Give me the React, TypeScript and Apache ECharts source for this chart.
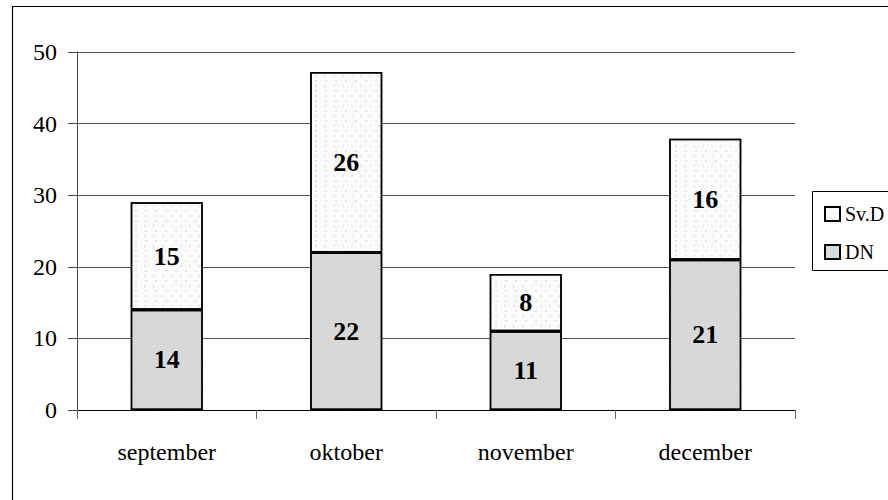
import React, { useEffect, useRef } from "react";
import * as echarts from "echarts";

const categories = ["september", "oktober", "november", "december"];
const dnValues = [14, 22, 11, 21];
const svdValues = [15, 25.2, 8, 16.9];
const svdLabels = [15, 26, 8, 16];
const dnLabels = [14, 22, 11, 21];
const yTicks = [0, 10, 20, 30, 40, 50];

const FONT = "Liberation Serif";

export default function App() {
  const ref = useRef<HTMLDivElement>(null);
  useEffect(() => {
    if (!ref.current) return;
    const chart = echarts.init(ref.current, undefined, { renderer: "svg" });
    const labelStyle = {
      show: true,
      position: "inside" as const,
      fontFamily: FONT,
      fontWeight: "bold" as const,
      fontSize: 26,
      color: "#000",
    };
    chart.setOption({
      animation: false,
      backgroundColor: "#fff",
      textStyle: { fontFamily: FONT },
      grid: { left: 77, top: 52, width: 718, height: 358 },
      legend: {
        orient: "vertical",
        left: 819,
        top: 199,
        icon: "rect",
        itemWidth: 15,
        itemHeight: 14,
        itemGap: 18,
        data: ["Sv.D", "DN"],
        textStyle: { fontFamily: FONT, fontSize: 20, color: "#000" },
      },
      xAxis: {
        type: "category",
        data: categories,
        axisLine: { lineStyle: { color: "#000", width: 1 } },
        axisTick: { show: true, length: 9, lineStyle: { color: "#666" } },
        axisLabel: { fontFamily: FONT, fontSize: 24, color: "#000", margin: 30 },
      },
      yAxis: {
        type: "value",
        min: yTicks[0],
        max: yTicks[yTicks.length - 1],
        interval: 10,
        axisLine: { show: true, lineStyle: { color: "#444", width: 1 } },
        axisTick: { show: true, length: 9, lineStyle: { color: "#444" } },
        axisLabel: { fontFamily: FONT, fontSize: 24, color: "#000", margin: 20 },
        splitLine: { show: true, lineStyle: { color: "#555", width: 1 } },
      },
      series: [
        {
          name: "DN",
          type: "bar",
          stack: "total",
          barWidth: 72,
          data: dnValues,
          itemStyle: {
            color: "#d6d6d6",
            borderColor: "#000",
            borderWidth: 1.5,
            decal: {
              symbol: "circle",
              symbolSize: 0.6,
              dashArrayX: [2, 1],
              dashArrayY: [2, 1],
              color: "#e2e2e2",
              rotation: 0,
            },
          },
          label: { ...labelStyle, formatter: (p: any) => String(dnLabels[p.dataIndex]) },
        },
        {
          name: "Sv.D",
          type: "bar",
          stack: "total",
          barWidth: 72,
          data: svdValues,
          itemStyle: {
            color: "#fbfbfb",
            borderColor: "#000",
            borderWidth: 1.5,
            decal: {
              symbol: "circle",
              symbolSize: 0.6,
              dashArrayX: [[2, 7], [0, 4.5, 2, 2.5]],
              dashArrayY: [2, 2.5],
              color: "#c0c0c0",
              rotation: 0,
            },
          },
          label: { ...labelStyle, formatter: (p: any) => String(svdLabels[p.dataIndex]) },
        },
      ],
      graphic: [
        {
          type: "rect",
          shape: { x: 12.5, y: 6.5, width: 900, height: 520 },
          style: { fill: "none", stroke: "#000", lineWidth: 1.2 },
          silent: true,
        },
        {
          type: "rect",
          shape: { x: 812.5, y: 191.5, width: 100, height: 79 },
          style: { fill: "none", stroke: "#000", lineWidth: 1 },
          silent: true,
        },
      ],
    });
    return () => chart.dispose();
  }, []);
  return (
    <div
      ref={ref}
      style={{ position: "absolute", left: 0, top: 0, width: 888, height: 500 }}
    />
  );
}
